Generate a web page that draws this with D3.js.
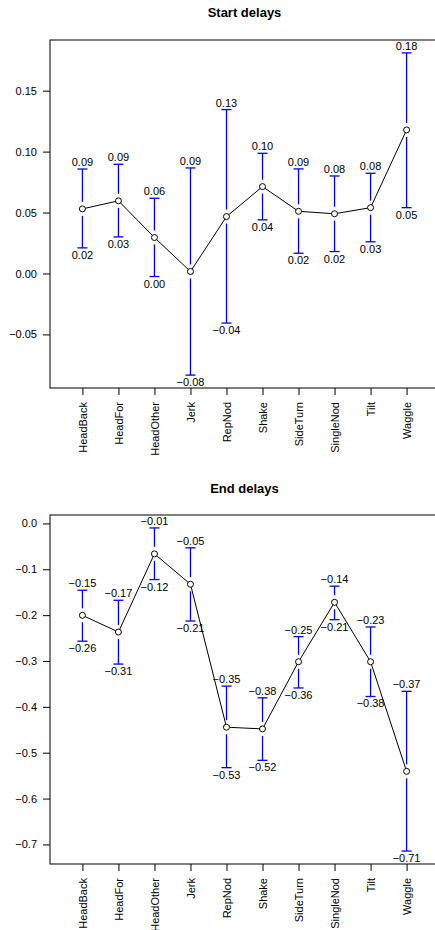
<!DOCTYPE html>
<html>
<head>
<meta charset="utf-8">
<script src="https://cdn.jsdelivr.net/npm/d3@7"></script>
<style>
  body { margin: 0; background: #fff; }
  svg { display: block; font-family: "Liberation Sans", Arial, sans-serif; }
</style>
</head>
<body>
<div id="graph"></div>
<script>
const categories = ["HeadBack", "HeadFor", "HeadOther", "Jerk", "RepNod", "Shake", "SideTurn", "SingleNod", "Tilt", "Waggle"];

const startMean  = [0.053, 0.0596, 0.0295, 0.0016, 0.0467, 0.0713, 0.051, 0.049, 0.054, 0.1178];
const startUpper = [0.0857, 0.0896, 0.0617, 0.0866, 0.1345, 0.0986, 0.0858, 0.080, 0.0822, 0.181];
const startLower = [0.021, 0.030, -0.0025, -0.0834, -0.0407, 0.044, 0.0166, 0.018, 0.026, 0.054];
const startTicks = [-0.05, 0, 0.05, 0.10, 0.15];

const endMean  = [-0.2004, -0.2368, -0.0663, -0.1326, -0.4444, -0.4481, -0.3016, -0.172, -0.3016, -0.5406];
const endUpper = [-0.1457, -0.1676, -0.0098, -0.0532, -0.3548, -0.3803, -0.2468, -0.1368, -0.2258, -0.3662];
const endLower = [-0.2568, -0.3067, -0.1224, -0.2128, -0.5326, -0.5166, -0.3588, -0.2098, -0.3774, -0.7145];
const endTicks = [-0.7, -0.6, -0.5, -0.4, -0.3, -0.2, -0.1, 0.0];

const W = 435, H = 930;
const svg = d3.select("#graph").append("svg")
  .attr("width", W)
  .attr("height", H);

const valFmt = d3.format(".2f");

function drawPanel(opts) {
  const left = 50, right = 439;
  const top = opts.top, bottom = opts.bottom;

  const g = svg.append("g");

  const x = d3.scalePoint()
    .domain(categories)
    .range([left, right])
    .padding(0.9);

  // R style ylim: range of the bars plus 4% on each side
  const lo = d3.min(opts.lower), hi = d3.max(opts.upper);
  const ext = (hi - lo) * 0.04;
  const y = d3.scaleLinear()
    .domain([lo - ext, hi + ext])
    .range([bottom, top]);

  g.append("text")
    .attr("x", (left + right) / 2)
    .attr("y", opts.titleY)
    .attr("text-anchor", "middle")
    .attr("font-weight", "bold")
    .attr("font-size", 13)
    .text(opts.title);

  g.append("rect")
    .attr("x", left).attr("y", top)
    .attr("width", right - left).attr("height", bottom - top)
    .attr("fill", "none")
    .attr("stroke", "#000")
    .attr("stroke-width", 1);

  const yAxis = g.append("g")
    .attr("transform", `translate(${left},0)`)
    .call(d3.axisLeft(y).tickValues(opts.ticks).tickFormat(d3.format(opts.tickFmt)).tickSize(7).tickPadding(6));
  yAxis.select(".domain").remove();
  yAxis.selectAll("text").attr("font-size", 11).attr("fill", "#000").style("font-family", "inherit");

  const xAxis = g.append("g")
    .attr("transform", `translate(0,${bottom})`)
    .call(d3.axisBottom(x).tickSize(7));
  xAxis.select(".domain").remove();
  xAxis.selectAll("text")
    .attr("transform", "rotate(-90)")
    .attr("x", -14)
    .attr("y", 0)
    .attr("dy", "0.35em")
    .attr("text-anchor", "end")
    .attr("font-size", 11)
    .attr("fill", "#000")
    .style("font-family", "inherit");

  const rows = categories.map((c, i) => ({
    cat: c, mean: opts.mean[i], upper: opts.upper[i], lower: opts.lower[i]
  }));

  const gap = 7, cap = 5;
  const bars = g.append("g")
    .attr("stroke", "#0000ff")
    .attr("stroke-width", 1.3);

  bars.selectAll(".up")
    .data(rows).enter().append("line")
    .attr("x1", d => x(d.cat)).attr("x2", d => x(d.cat))
    .attr("y1", d => y(d.upper))
    .attr("y2", d => Math.max(y(d.upper), y(d.mean) - gap));

  bars.selectAll(".down")
    .data(rows).enter().append("line")
    .attr("x1", d => x(d.cat)).attr("x2", d => x(d.cat))
    .attr("y1", d => Math.min(y(d.lower), y(d.mean) + gap))
    .attr("y2", d => y(d.lower));

  bars.selectAll(".capu")
    .data(rows).enter().append("line")
    .attr("x1", d => x(d.cat) - cap).attr("x2", d => x(d.cat) + cap)
    .attr("y1", d => y(d.upper)).attr("y2", d => y(d.upper));

  bars.selectAll(".capl")
    .data(rows).enter().append("line")
    .attr("x1", d => x(d.cat) - cap).attr("x2", d => x(d.cat) + cap)
    .attr("y1", d => y(d.lower)).attr("y2", d => y(d.lower));

  const line = d3.line().x(d => x(d.cat)).y(d => y(d.mean));
  g.append("path")
    .datum(rows)
    .attr("d", line)
    .attr("fill", "none")
    .attr("stroke", "#000")
    .attr("stroke-width", 1);

  g.selectAll(".pt")
    .data(rows).enter().append("circle")
    .attr("cx", d => x(d.cat))
    .attr("cy", d => y(d.mean))
    .attr("r", 3)
    .attr("fill", "#fff")
    .attr("stroke", "#000")
    .attr("stroke-width", 1);

  g.selectAll(".lu")
    .data(rows).enter().append("text")
    .attr("x", d => x(d.cat))
    .attr("y", d => y(d.upper) - 3)
    .attr("text-anchor", "middle")
    .attr("font-size", 11)
    .text(d => valFmt(d.upper));

  g.selectAll(".ll")
    .data(rows).enter().append("text")
    .attr("x", d => x(d.cat))
    .attr("y", d => y(d.lower) + 11)
    .attr("text-anchor", "middle")
    .attr("font-size", 11)
    .text(d => valFmt(d.lower));
}

drawPanel({
  title: "Start delays", titleY: 17, top: 40, bottom: 388,
  mean: startMean, upper: startUpper, lower: startLower,
  ticks: startTicks, tickFmt: ".2f"
});

drawPanel({
  title: "End delays", titleY: 493, top: 515, bottom: 864,
  mean: endMean, upper: endUpper, lower: endLower,
  ticks: endTicks, tickFmt: ".1f"
});
</script>
</body>
</html>
